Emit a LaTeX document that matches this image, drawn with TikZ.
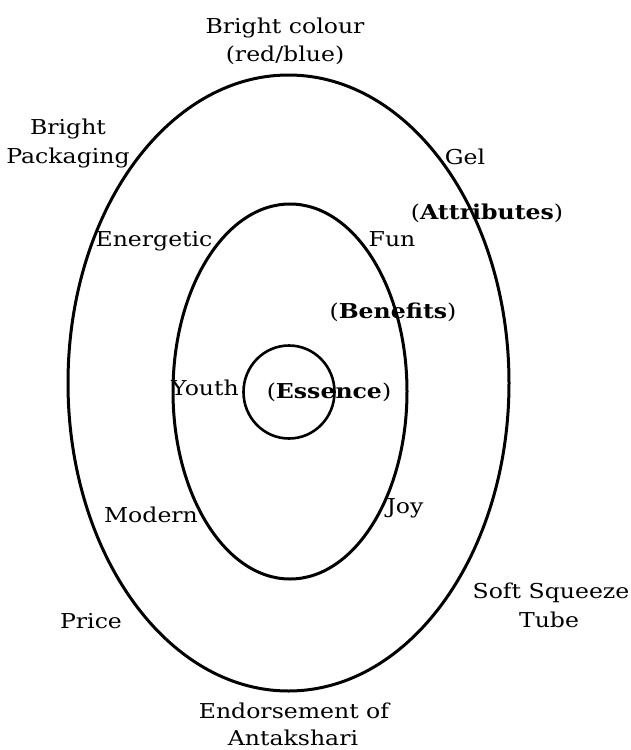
\documentclass[tikz,border=0pt]{standalone}
\usepackage{fontspec}
\setmainfont{DejaVu Serif}[FakeStretch=1.15]
\begin{document}
\begin{tikzpicture}[x=1pt,y=-1pt,
  ring/.style={draw=black,line width=3pt},
  lbl/.style={anchor=base,inner sep=0pt,font=\fontsize{20.5}{24}\selectfont},
  hdr/.style={anchor=base,inner sep=0pt,font=\fontsize{20.5}{24}\selectfont}]
\useasboundingbox[fill=white] (0,0) rectangle (631,750);
% rings
\draw[ring] (288.5,383) ellipse [x radius=220.5, y radius=308];
\draw[ring] (290,391.5) ellipse [x radius=117, y radius=187.5];
\draw[ring,line width=2.6pt] (289,392) ellipse [x radius=45.5, y radius=46.5];
% labels
\node[lbl] (bc1) at (285,33) {Bright colour};
\node[lbl] (bc2) at (285,61) {(red/blue)};
\node[lbl] (bp1) at (68,134) {Bright};
\node[lbl] (bp2) at (68,163) {Packaging};
\node[lbl] (gel) at (465,164) {Gel};
\node[hdr] (att) at (487,219) {(\textbf{Attributes})};
\node[lbl] (ene) at (154,246) {Energetic};
\node[lbl] (fun) at (392,246) {Fun};
\node[hdr] (ben) at (393,318) {(\textbf{Benefits})};
\node[lbl] (you) at (205,395) {Youth};
\node[hdr] (ess) at (329,398) {(\textbf{Essence})};
\node[lbl] (mod) at (151,522) {Modern};
\node[lbl] (joy) at (405,513) {Joy};
\node[lbl] (pri) at (91,628) {Price};
\node[lbl] (ssq) at (551,598) {Soft Squeeze};
\node[lbl] (tub) at (549,627) {Tube};
\node[lbl] (end) at (294,718) {Endorsement of};
\node[lbl] (ant) at (293,745) {Antakshari};
\end{tikzpicture}
\end{document}
